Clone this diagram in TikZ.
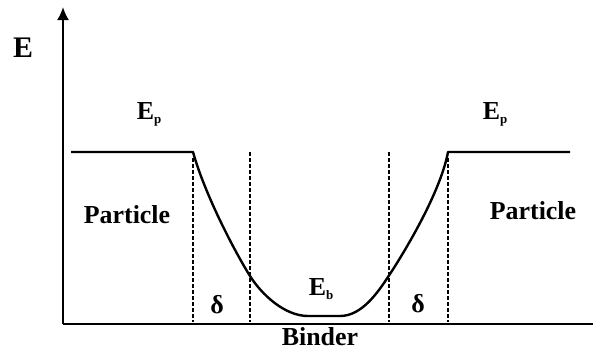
\documentclass[tikz,border=0pt]{standalone}
\usepackage{fontspec}
\setmainfont{Liberation Serif}
\usetikzlibrary{arrows.meta,positioning,calc}

\begin{document}
\begin{tikzpicture}[x=1bp, y=-1bp,
  lbl/.style={font=\fontsize{26}{28}\selectfont\bfseries, inner sep=0pt},
  sym/.style={font=\fontsize{26}{28}\selectfont\bfseries, inner sep=0pt},
  axis/.style={line width=2bp},
  curve/.style={line width=2.4bp, line join=round},
  bound/.style={line width=1.4bp, dash pattern=on 3.5bp off 2.5bp}]
  \useasboundingbox (0,0) rectangle (593,360);
  % axes
  \coordinate (o)    at (63,324);
  \coordinate (ytop) at (63,7);
  \coordinate (xend) at (593,324);
  \draw[axis,-{Latex[length=13bp,width=12bp]}] (o) -- (ytop);
  \draw[axis] (o) -- (xend);
  % energy profile
  \coordinate (pl1) at (71,152);
  \coordinate (pl2) at (193,152);
  \coordinate (ml)  at (250,276);
  \coordinate (bl)  at (308,316);
  \coordinate (br)  at (340,316);
  \coordinate (mr)  at (388,277);
  \coordinate (pr1) at (448,152);
  \coordinate (pr2) at (570,152);
  \draw[curve] (pl1) -- (pl2) .. controls (205,195) and (235,252) .. (ml)
     .. controls (262,295) and (285,316) .. (bl) -- (br)
     .. controls (362,316) and (378,292) .. (mr)
     .. controls (400,259) and (440,195) .. (pr1) -- (pr2);
  % interface zones
  \foreach \xx/\yy in {193/158, 250/152, 389/152, 448/158}
    \draw[bound] (\xx,\yy) -- (\xx,322);
  % labels
  \node[font=\fontsize{30}{32}\selectfont\bfseries, inner sep=0pt] (E) at (23,48) {E};
  \node[sym] (Epl)   at (149,114) {E\raisebox{-0.35ex}{\fontsize{13}{13}\selectfont p}};
  \node[sym] (Epr)   at (495,114) {E\raisebox{-0.35ex}{\fontsize{13}{13}\selectfont p}};
  \node[lbl] (partl) at (127,215) {Particle};
  \node[lbl] (partr) at (533,211) {Particle};
  \node[sym] (dl)    at (217,305) {δ};
  \node[sym] (dr)    at (418,304) {δ};
  \node[sym] (Eb)    at (321,289) {E\raisebox{-0.35ex}{\fontsize{13}{13}\selectfont b}};
  \node[lbl] (bind)  at (320,337) {Binder};
\end{tikzpicture}
\end{document}
